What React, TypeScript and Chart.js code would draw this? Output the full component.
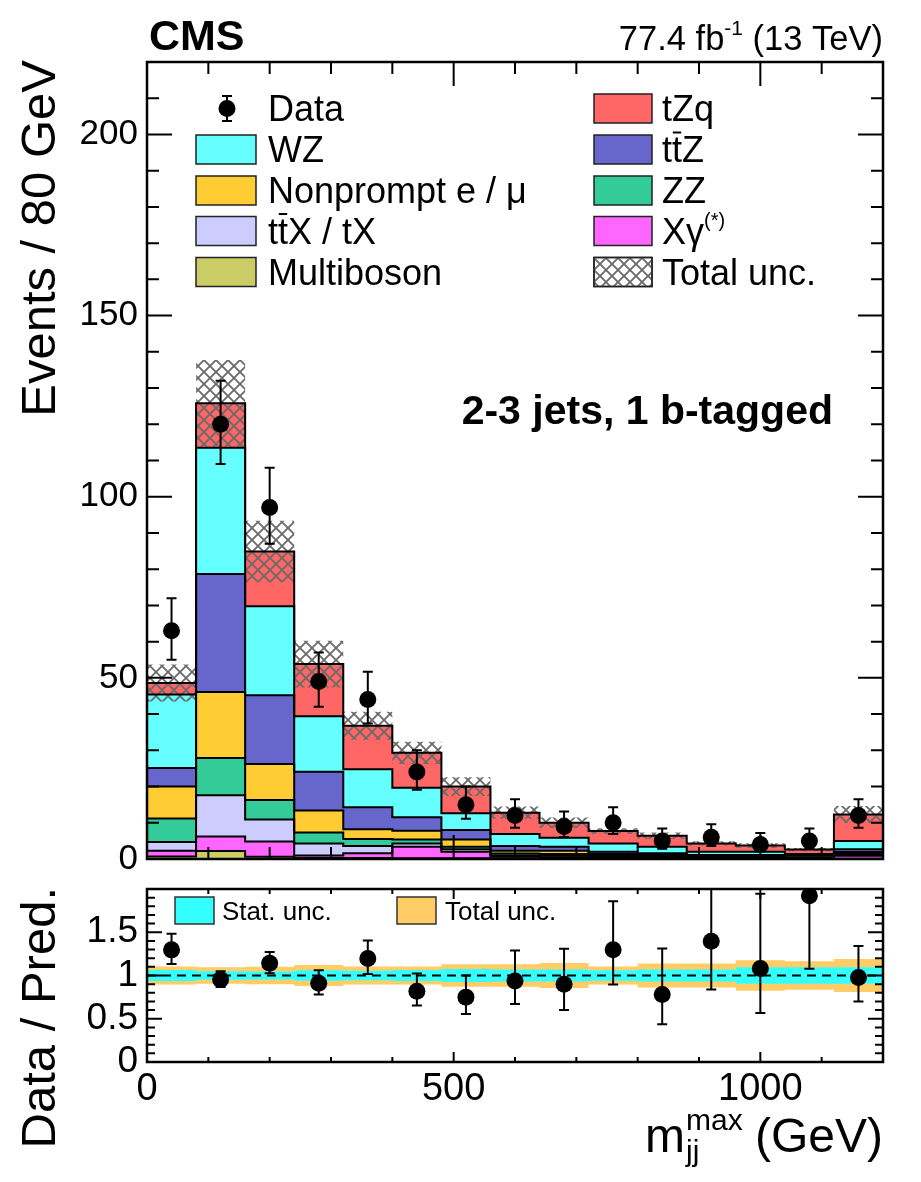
import React, { useEffect, useRef } from "react";
import { Chart, registerables } from "chart.js";

Chart.register(...registerables);

const FONT = '"Liberation Sans", Arial, Helvetica, sans-serif';

// m_jj^max binning (GeV): lower bin edges, plus the upper edge of the last bin
const binLow = [0, 80, 160, 240, 320, 400, 480, 560, 640, 720, 800, 880, 960, 1040, 1120];
const binHigh = 1200;

// Predicted yields per bin, listed from the bottom of the stack to the top
const multiboson = [0.7, 2.2, 0.6, 0.3, 0.3, 0.2, 0.2, 0.1, 0.1, 0.1, 0.1, 0.1, 0.05, 0.05, 0.1];
const xGamma = [1.6, 4.0, 4.2, 0.7, 1.3, 3.2, 1.8, 0.5, 0.4, 0.3, 0.2, 0.2, 0.15, 0.15, 0.8];
const ttXtX = [2.4, 11.4, 6.1, 3.3, 2.0, 0.9, 0.7, 0.4, 0.4, 0.3, 0.2, 0.2, 0.2, 0.1, 0.3];
const zz = [6.5, 10.3, 5.4, 3.0, 1.9, 1.1, 0.7, 0.5, 0.5, 0.3, 0.3, 0.2, 0.2, 0.6, 0.3];
const nonprompt = [8.8, 18.2, 9.9, 6.1, 2.7, 2.4, 2.0, 0.8, 0.9, 0.4, 0.6, 0.2, 0.2, 0.1, 0.4];
const ttZ = [5.1, 32.6, 19.0, 10.7, 6.1, 3.7, 2.6, 1.3, 1.1, 0.6, 0.2, 0.2, 0.3, 0.2, 0.8];
const wz = [20.3, 34.8, 24.6, 15.3, 10.5, 8.2, 4.6, 3.3, 2.5, 2.3, 1.8, 0.9, 0.9, 0.2, 2.3];
const tZq = [3.2, 12.3, 15.1, 14.4, 12.0, 9.6, 7.4, 5.9, 4.1, 3.4, 3.0, 2.3, 1.7, 1.2, 7.3];

// Observed events and their asymmetric errors
const dataCounts = [63, 120, 97, 49, 44, 24, 15, 12, 9, 10, 5, 6, 4, 5, 12];
const dataErrUp = [9.0, 12.0, 11.0, 8.0, 7.7, 6.0, 5.0, 4.5, 4.1, 4.3, 3.4, 3.6, 3.2, 3.4, 4.5];
const dataErrDown = [8.0, 11.0, 10.0, 7.0, 6.6, 4.9, 3.9, 3.4, 3.0, 3.1, 2.2, 2.4, 1.9, 2.2, 3.4];

// Relative uncertainties on the total prediction
const totalUncRel = [0.105, 0.095, 0.1, 0.12, 0.105, 0.105, 0.13, 0.13, 0.145, 0.105, 0.14, 0.14, 0.175, 0.165, 0.19];
const statUncRel = [0.065, 0.05, 0.045, 0.06, 0.055, 0.065, 0.075, 0.07, 0.07, 0.06, 0.07, 0.07, 0.095, 0.095, 0.095];

// Axis ranges and labelled ticks
const mainYRange = [0, 220];
const ratioYRange = [0, 2];
const xRange = [0, binHigh];
const mainYTicks = [0, 50, 100, 150, 200];
const ratioYTicks = [0, 0.5, 1, 1.5];
const xTicks = [0, 500, 1000];

const COLORS = {
  multiboson: "#cccc66",
  xGamma: "#ff66ff",
  ttXtX: "#ccccff",
  zz: "#33cc99",
  nonprompt: "#ffcc33",
  ttZ: "#6666cc",
  wz: "#66ffff",
  tZq: "#ff6666",
  totalBand: "#ffcc66",
  statBand: "#33ffff",
};

const stackLayers = [
  { key: "multiboson", values: multiboson, color: COLORS.multiboson },
  { key: "xGamma", values: xGamma, color: COLORS.xGamma },
  { key: "ttXtX", values: ttXtX, color: COLORS.ttXtX },
  { key: "zz", values: zz, color: COLORS.zz },
  { key: "nonprompt", values: nonprompt, color: COLORS.nonprompt },
  { key: "ttZ", values: ttZ, color: COLORS.ttZ },
  { key: "wz", values: wz, color: COLORS.wz },
  { key: "tZq", values: tZq, color: COLORS.tZq },
];

const binCenters = binLow.map((lo, i) => (lo + (i + 1 < binLow.length ? binLow[i + 1] : binHigh)) / 2);
const totals = binLow.map((_, i) => stackLayers.reduce((s, l) => s + l.values[i], 0));

// Step outline points: one point per lower edge, last value repeated at the upper edge
function stepPoints(values: number[]) {
  const pts = binLow.map((x, i) => ({ x, y: values[i] }));
  pts.push({ x: binHigh, y: values[values.length - 1] });
  return pts;
}

const fixedTicks = (values: number[]) => (scale: any) => {
  scale.ticks = values.map((value) => ({ value }));
};

type Seg = { t: string; size: number; dy?: number; bar?: boolean; bold?: boolean };

function fontOf(s: Seg) {
  return `${s.bold ? "bold " : ""}${s.size}px ${FONT}`;
}

function drawRich(ctx: CanvasRenderingContext2D, segs: Seg[], x: number, y: number, align: "left" | "right") {
  let w = 0;
  for (const s of segs) {
    ctx.font = fontOf(s);
    w += ctx.measureText(s.t).width;
  }
  let cx = align === "right" ? x - w : x;
  ctx.textAlign = "left";
  ctx.textBaseline = "alphabetic";
  for (const s of segs) {
    ctx.font = fontOf(s);
    const sw = ctx.measureText(s.t).width;
    ctx.fillText(s.t, cx, y + (s.dy || 0));
    if (s.bar) {
      ctx.fillRect(cx + sw * 0.08, y - s.size * 0.86, sw * 0.84, 2);
    }
    cx += sw;
  }
}

type TickSpec = {
  yMin: number; yMax: number; yMinor: number; yPer: number; yMajLen: number; yMinLen: number;
  xMin: number; xMax: number; xMinor: number; xPer: number; xMajLen: number; xMinLen: number;
};

function drawFrame(chart: any, spec: TickSpec) {
  const { ctx, chartArea: a } = chart;
  const xs = chart.scales.x;
  const ys = chart.scales.y;
  ctx.save();
  ctx.strokeStyle = "#000";
  ctx.lineWidth = 2;
  ctx.beginPath();
  const nY = Math.round((spec.yMax - spec.yMin) / spec.yMinor);
  for (let i = 0; i <= nY; i++) {
    const p = ys.getPixelForValue(spec.yMin + i * spec.yMinor);
    const L = i % spec.yPer === 0 ? spec.yMajLen : spec.yMinLen;
    ctx.moveTo(a.left, p);
    ctx.lineTo(a.left + L, p);
    ctx.moveTo(a.right, p);
    ctx.lineTo(a.right - L, p);
  }
  const nX = Math.round((spec.xMax - spec.xMin) / spec.xMinor);
  for (let i = 0; i <= nX; i++) {
    const p = xs.getPixelForValue(spec.xMin + i * spec.xMinor);
    const L = i % spec.xPer === 0 ? spec.xMajLen : spec.xMinLen;
    ctx.moveTo(p, a.bottom);
    ctx.lineTo(p, a.bottom - L);
    ctx.moveTo(p, a.top);
    ctx.lineTo(p, a.top + L);
  }
  ctx.stroke();
  ctx.lineWidth = 2.5;
  ctx.strokeRect(a.left, a.top, a.right - a.left, a.bottom - a.top);
  ctx.restore();
}

function drawErrorBars(chart: any, centers: number[], vals: number[], ups: number[], downs: number[]) {
  const { ctx, chartArea: a } = chart;
  const xs = chart.scales.x;
  const ys = chart.scales.y;
  ctx.save();
  ctx.beginPath();
  ctx.rect(a.left, a.top, a.right - a.left, a.bottom - a.top);
  ctx.clip();
  ctx.strokeStyle = "#000";
  ctx.lineWidth = 2;
  ctx.beginPath();
  centers.forEach((c, i) => {
    const px = xs.getPixelForValue(c);
    const pHi = ys.getPixelForValue(vals[i] + ups[i]);
    const pLo = ys.getPixelForValue(vals[i] - downs[i]);
    ctx.moveTo(px, pHi);
    ctx.lineTo(px, pLo);
    ctx.moveTo(px - 5, pHi);
    ctx.lineTo(px + 5, pHi);
    ctx.moveTo(px - 5, pLo);
    ctx.lineTo(px + 5, pLo);
  });
  ctx.stroke();
  ctx.restore();
}

function makeHatch(): any {
  const c = document.createElement("canvas");
  c.width = 12;
  c.height = 12;
  const g = c.getContext("2d")!;
  g.strokeStyle = "#6a6a6a";
  g.lineWidth = 1.8;
  g.beginPath();
  g.moveTo(-1, -1);
  g.lineTo(13, 13);
  g.moveTo(13, -1);
  g.lineTo(-1, 13);
  g.stroke();
  return g.createPattern(c, "repeat");
}

function yTitle(ctx: CanvasRenderingContext2D, text: string, x: number, yEnd: number) {
  ctx.save();
  ctx.translate(x, yEnd);
  ctx.rotate(-Math.PI / 2);
  ctx.font = `49px ${FONT}`;
  ctx.textAlign = "right";
  ctx.textBaseline = "alphabetic";
  ctx.fillStyle = "#000";
  ctx.fillText(text, 0, 0);
  ctx.restore();
}

// Layout of the two canvases on the page
const MAIN_H = 904;
const MAIN_PAD_BOTTOM = 45;
const RATIO_TOP = 844;
const RATIO_H = 1182 - RATIO_TOP;
const RATIO_PAD_TOP = 45;

function buildMainConfig(hatch: any): any {
  const datasets: any[] = [];
  let cum = binLow.map(() => 0);
  stackLayers.forEach((layer, i) => {
    cum = cum.map((c, j) => c + layer.values[j]);
    datasets.push({
      label: layer.key,
      data: stepPoints(cum),
      stepped: "before",
      fill: i === 0 ? "origin" : "-1",
      backgroundColor: layer.color,
      borderColor: "#000",
      borderWidth: 2,
      pointRadius: 0,
      order: 2,
    });
  });
  datasets.push({
    label: "uncLo",
    data: stepPoints(totals.map((t, i) => t * (1 - totalUncRel[i]))),
    stepped: "before",
    fill: false,
    borderColor: "rgba(0,0,0,0)",
    borderWidth: 0,
    pointRadius: 0,
    order: 1,
  });
  datasets.push({
    label: "uncHi",
    data: stepPoints(totals.map((t, i) => t * (1 + totalUncRel[i]))),
    stepped: "before",
    fill: "-1",
    backgroundColor: hatch,
    borderColor: "rgba(0,0,0,0)",
    borderWidth: 0,
    pointRadius: 0,
    order: 1,
  });
  datasets.push({
    label: "data",
    data: binCenters.map((x, i) => ({ x, y: dataCounts[i] })),
    showLine: false,
    pointRadius: 8.5,
    pointHoverRadius: 8.5,
    pointBackgroundColor: "#000",
    pointBorderWidth: 0,
    order: 0,
  });

  const decor = {
    id: "mainDecor",
    afterDatasetsDraw(chart: any) {
      drawErrorBars(chart, binCenters, dataCounts, dataErrUp, dataErrDown);
    },
    afterDraw(chart: any) {
      const ctx: CanvasRenderingContext2D = chart.ctx;
      drawFrame(chart, {
        yMin: 0, yMax: 220, yMinor: 10, yPer: 5, yMajLen: 25, yMinLen: 12,
        xMin: 0, xMax: 1200, xMinor: 100, xPer: 5, xMajLen: 24, xMinLen: 12,
      });
      ctx.save();
      ctx.fillStyle = "#000";
      ctx.font = `bold 43px ${FONT}`;
      ctx.textAlign = "left";
      ctx.textBaseline = "alphabetic";
      ctx.fillText("CMS", 149, 50);
      drawRich(ctx, [
        { t: "77.4 fb", size: 34.5 },
        { t: "-1", size: 21, dy: -15 },
        { t: " (13 TeV)", size: 34.5 },
      ], 883, 50, "right");
      yTitle(ctx, "Events / 80 GeV", 55, 60);
      ctx.font = `bold 41px ${FONT}`;
      ctx.textAlign = "right";
      ctx.fillText("2-3 jets, 1 b-tagged", 833, 424);

      // legend
      const fs = 36;
      const base = (cy: number) => cy + fs * 0.36;
      const box = (x: number, cy: number, w: number, fill: any) => {
        ctx.fillStyle = fill;
        ctx.fillRect(x, cy - 14.5, w, 29);
        ctx.strokeStyle = "#222";
        ctx.lineWidth = 1.5;
        ctx.strokeRect(x, cy - 14.5, w, 29);
        ctx.fillStyle = "#000";
      };
      // data marker
      ctx.beginPath();
      ctx.arc(227, 108.5, 8.5, 0, Math.PI * 2);
      ctx.fill();
      ctx.strokeStyle = "#000";
      ctx.lineWidth = 2;
      ctx.beginPath();
      ctx.moveTo(227, 96); ctx.lineTo(227, 121);
      ctx.moveTo(222, 96); ctx.lineTo(232, 96);
      ctx.moveTo(222, 121); ctx.lineTo(232, 121);
      ctx.stroke();
      drawRich(ctx, [{ t: "Data", size: fs }], 268, base(108.5), "left");

      const leftRows: [number, string, Seg[]][] = [
        [149.5, COLORS.wz, [{ t: "WZ", size: fs }]],
        [190.5, COLORS.nonprompt, [{ t: "Nonprompt e / \u03bc", size: fs }]],
        [231, COLORS.ttXtX, [{ t: "t", size: fs }, { t: "t", size: fs, bar: true }, { t: "X / tX", size: fs }]],
        [272, COLORS.multiboson, [{ t: "Multiboson", size: fs }]],
      ];
      leftRows.forEach(([cy, col, segs]) => {
        box(196, cy, 60, col);
        drawRich(ctx, segs, 268, base(cy), "left");
      });
      const rightRows: [number, any, Seg[]][] = [
        [108.5, COLORS.tZq, [{ t: "tZq", size: fs }]],
        [149.5, COLORS.ttZ, [{ t: "t", size: fs }, { t: "t", size: fs, bar: true }, { t: "Z", size: fs }]],
        [190.5, COLORS.zz, [{ t: "ZZ", size: fs }]],
        [231, COLORS.xGamma, [{ t: "X\u03b3", size: fs }, { t: "(*)", size: 20, dy: -17 }]],
        [272, "#ffffff", [{ t: "Total unc.", size: fs }]],
      ];
      rightRows.forEach(([cy, col, segs], k) => {
        box(594, cy, 58, col);
        if (k === 4) {
          ctx.fillStyle = hatch;
          ctx.fillRect(594, cy - 14.5, 58, 29);
          ctx.strokeStyle = "#222";
          ctx.lineWidth = 1.5;
          ctx.strokeRect(594, cy - 14.5, 58, 29);
          ctx.fillStyle = "#000";
        }
        drawRich(ctx, segs, 662, base(cy), "left");
      });
      ctx.restore();
    },
  };

  return {
    type: "line",
    data: { datasets },
    plugins: [decor],
    options: {
      responsive: false,
      animation: false,
      devicePixelRatio: 1,
      events: [],
      layout: { padding: { top: 62, right: 38, bottom: MAIN_PAD_BOTTOM, left: 0 } },
      plugins: {
        legend: { display: false },
        tooltip: { enabled: false },
        filler: { drawTime: "beforeDatasetsDraw", propagate: false },
      },
      scales: {
        x: { type: "linear", min: xRange[0], max: xRange[1], display: false },
        y: {
          type: "linear",
          min: mainYRange[0],
          max: mainYRange[1],
          grid: { display: false, drawTicks: false },
          border: { display: false },
          afterBuildTicks: fixedTicks(mainYTicks),
          ticks: {
            autoSkip: false,
            padding: 9,
            color: "#000",
            font: { size: 35, family: FONT },
            callback: (v: number) => String(v),
          },
          afterFit: (s: any) => {
            s.width = 147;
          },
        },
      },
    },
  };
}

function buildRatioConfig(): any {
  const ratio = dataCounts.map((d, i) => d / totals[i]);
  const ratioUp = dataErrUp.map((e, i) => e / totals[i]);
  const ratioDown = dataErrDown.map((e, i) => e / totals[i]);
  const line = (vals: number[], extra: any) => ({
    data: stepPoints(vals),
    stepped: "before",
    borderColor: "rgba(0,0,0,0)",
    borderWidth: 0,
    pointRadius: 0,
    ...extra,
  });
  const datasets: any[] = [
    line(totalUncRel.map((u) => 1 - u), { fill: false, order: 4 }),
    line(totalUncRel.map((u) => 1 + u), { fill: "-1", backgroundColor: COLORS.totalBand, order: 4 }),
    line(statUncRel.map((u) => 1 - u), { fill: false, order: 3 }),
    line(statUncRel.map((u) => 1 + u), { fill: "-1", backgroundColor: COLORS.statBand, order: 3 }),
    {
      data: [{ x: xRange[0], y: 1 }, { x: xRange[1], y: 1 }],
      borderColor: "#000",
      borderWidth: 2,
      borderDash: [9, 6],
      pointRadius: 0,
      fill: false,
      order: 1,
    },
    {
      data: binCenters.map((x, i) => ({ x, y: ratio[i] })),
      showLine: false,
      pointRadius: 8.5,
      pointHoverRadius: 8.5,
      pointBackgroundColor: "#000",
      pointBorderWidth: 0,
      order: 0,
    },
  ];

  const decor = {
    id: "ratioDecor",
    afterDatasetsDraw(chart: any) {
      drawErrorBars(chart, binCenters, ratio, ratioUp, ratioDown);
    },
    afterDraw(chart: any) {
      const ctx: CanvasRenderingContext2D = chart.ctx;
      const a = chart.chartArea;
      drawFrame(chart, {
        yMin: 0, yMax: 2, yMinor: 0.1, yPer: 5, yMajLen: 15, yMinLen: 8,
        xMin: 0, xMax: 1200, xMinor: 100, xPer: 5, xMajLen: 10, xMinLen: 5,
      });
      ctx.save();
      ctx.fillStyle = "#000";
      yTitle(ctx, "Data / Pred.", 55, a.top - 2);
      // band legend
      const legTop = a.top + 8;
      const legBox = (x: number, col: string) => {
        ctx.fillStyle = col;
        ctx.fillRect(x, legTop, 39, 27);
        ctx.strokeStyle = "#333";
        ctx.lineWidth = 1.5;
        ctx.strokeRect(x, legTop, 39, 27);
        ctx.fillStyle = "#000";
      };
      legBox(175, COLORS.statBand);
      drawRich(ctx, [{ t: "Stat. unc.", size: 26 }], 222, legTop + 22.5, "left");
      legBox(397, COLORS.totalBand);
      drawRich(ctx, [{ t: "Total unc.", size: 26 }], 445, legTop + 22.5, "left");

      // x-axis title: m_jj^max (GeV)
      const baseY = a.bottom + 90;
      ctx.textBaseline = "alphabetic";
      ctx.font = `48px ${FONT}`;
      const wUnit = ctx.measureText("(GeV)").width;
      const wSpace = ctx.measureText(" ").width;
      const wM = ctx.measureText("m").width;
      ctx.font = `30px ${FONT}`;
      const wMax = ctx.measureText("max").width;
      const unitX = 883 - wUnit;
      const scriptX = unitX - wSpace - wMax;
      const mX = scriptX - wM;
      ctx.textAlign = "left";
      ctx.font = `48px ${FONT}`;
      ctx.fillText("m", mX, baseY);
      ctx.fillText("(GeV)", unitX, baseY);
      ctx.font = `30px ${FONT}`;
      ctx.fillText("max", scriptX + 1, baseY - 22);
      ctx.fillText("jj", scriptX + 1, baseY + 9);
      ctx.restore();
    },
  };

  return {
    type: "line",
    data: { datasets },
    plugins: [decor],
    options: {
      responsive: false,
      animation: false,
      devicePixelRatio: 1,
      events: [],
      layout: { padding: { top: RATIO_PAD_TOP, right: 38, bottom: 0, left: 0 } },
      plugins: {
        legend: { display: false },
        tooltip: { enabled: false },
        filler: { drawTime: "beforeDatasetsDraw", propagate: false },
      },
      scales: {
        x: {
          type: "linear",
          min: xRange[0],
          max: xRange[1],
          grid: { display: false, drawTicks: false },
          border: { display: false },
          afterBuildTicks: fixedTicks(xTicks),
          ticks: {
            autoSkip: false,
            maxRotation: 0,
            padding: 5,
            color: "#000",
            font: { size: 38, family: FONT },
            callback: (v: number) => String(v),
          },
          afterFit: (s: any) => {
            s.height = 120;
          },
        },
        y: {
          type: "linear",
          min: ratioYRange[0],
          max: ratioYRange[1],
          grid: { display: false, drawTicks: false },
          border: { display: false },
          afterBuildTicks: fixedTicks(ratioYTicks),
          ticks: {
            autoSkip: false,
            padding: 9,
            color: "#000",
            font: { size: 37, family: FONT },
            callback: (v: number) => String(v),
          },
          afterFit: (s: any) => {
            s.width = 147;
          },
        },
      },
    },
  };
}

export default function App() {
  const topRef = useRef<HTMLCanvasElement>(null);
  const botRef = useRef<HTMLCanvasElement>(null);

  useEffect(() => {
    document.body.style.margin = "0";
    Chart.defaults.font.family = FONT;
    Chart.defaults.color = "#000";
    const hatch = makeHatch();
    const main = new Chart(topRef.current!, buildMainConfig(hatch));
    const ratio = new Chart(botRef.current!, buildRatioConfig());
    return () => {
      main.destroy();
      ratio.destroy();
    };
  }, []);

  return (
    <div style={{ position: "relative", width: 921, height: 1182, background: "#fff", overflow: "hidden" }}>
      <canvas ref={topRef} width={921} height={MAIN_H} style={{ position: "absolute", left: 0, top: 0 }} />
      <canvas ref={botRef} width={921} height={RATIO_H} style={{ position: "absolute", left: 0, top: RATIO_TOP }} />
    </div>
  );
}
